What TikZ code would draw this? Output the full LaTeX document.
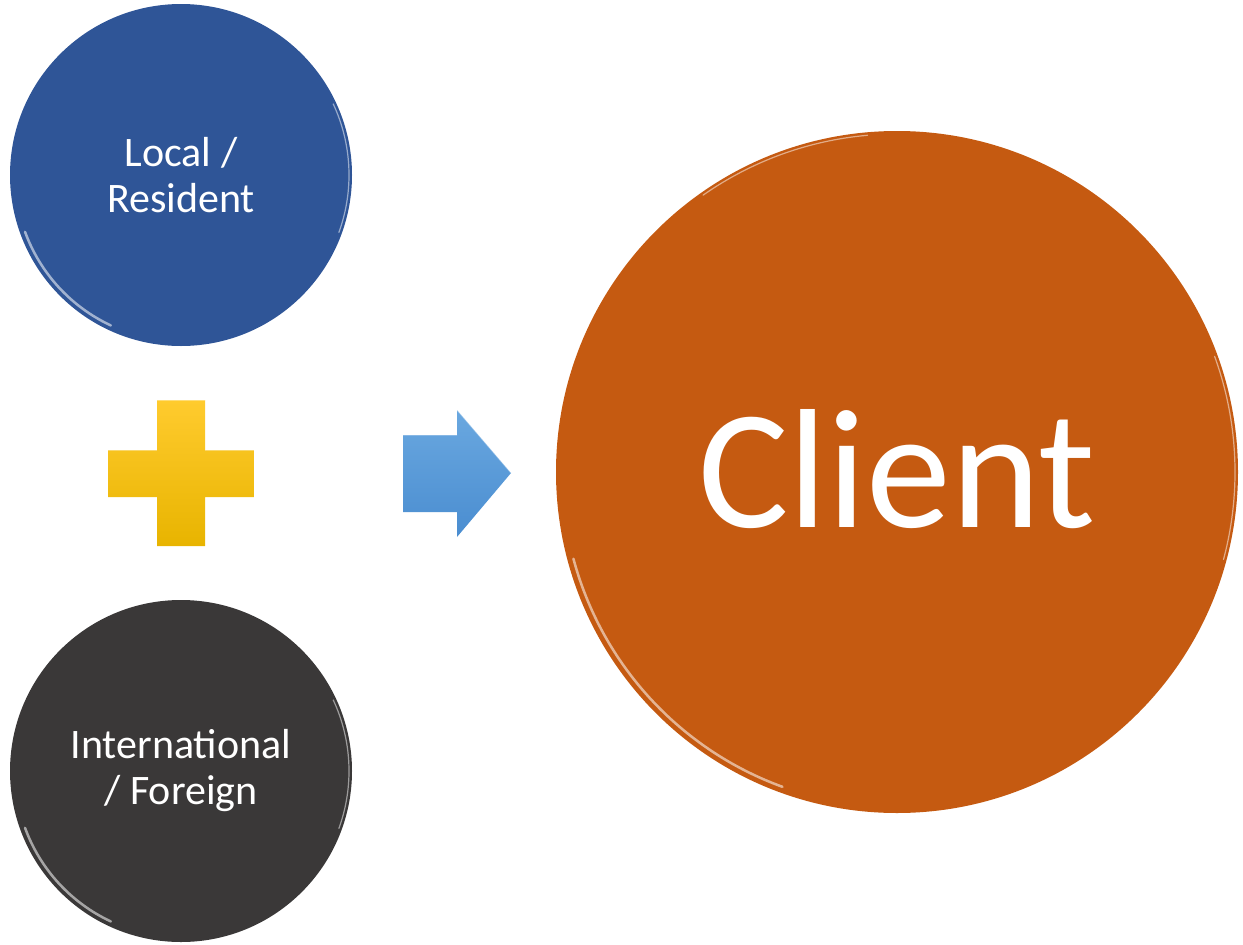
\documentclass[tikz,border=0pt]{standalone}
\usepackage{fontspec}
\setmainfont{Carlito}
\usetikzlibrary{calc}
\definecolor{cblue}{HTML}{2F5597}
\definecolor{cdark}{HTML}{3A3838}
\definecolor{corange}{HTML}{C55A11}
\definecolor{ytop}{HTML}{FFCB2E}
\definecolor{ybot}{HTML}{E8B400}
\definecolor{atop}{HTML}{6AA8E0}
\definecolor{abot}{HTML}{4A8DD0}
\tikzset{
  disc/.style={circle, inner sep=0pt, text=white, align=center},
  smalltxt/.style={font=\fontsize{42}{46}\selectfont},
  bigtxt/.style={font=\fontsize{170}{180}\selectfont},
  rim/.style={white, line width=2.5pt, opacity=0.55, line cap=round},
  rimthin/.style={white, line width=1.2pt, opacity=0.5, line cap=round}
}
\begin{document}
\begin{tikzpicture}[x=1pt,y=-1pt]
\useasboundingbox (0,0) rectangle (1243,945);
% circles
\node[disc, fill=cblue, minimum size=342pt, smalltxt] (loc) at (181,175) {Local /\\Resident};
\node[disc, fill=cdark, minimum size=342pt, smalltxt] (intl) at (181,771) {International\\/ Foreign};
\node[disc, fill=corange, minimum size=682pt, bigtxt] (cli) at (897,472) {\raisebox{8pt}{Client}};
% glossy rims (y axis points down: angles 90..180 are lower left)
\draw[rim] ($(loc.center)+(115:166)$) arc[start angle=115, end angle=160, radius=166];
\draw[rimthin] ($(loc.center)+(-25:168)$) arc[start angle=-25, end angle=20, radius=168];
\draw[rim] ($(intl.center)+(115:166)$) arc[start angle=115, end angle=160, radius=166];
\draw[rimthin] ($(intl.center)+(-25:168)$) arc[start angle=-25, end angle=20, radius=168];
\draw[rim] ($(cli.center)+(110:335)$) arc[start angle=110, end angle=165, radius=335];
\draw[rimthin] ($(cli.center)+(235:338)$) arc[start angle=235, end angle=265, radius=338];
\draw[rimthin] ($(cli.center)+(-20:338)$) arc[start angle=-20, end angle=15, radius=338];
% plus sign
\coordinate (pc) at (181,473);
\shade[top color=ytop, bottom color=ybot]
  (157,400) -- (205,400) -- (205,450) -- (254,450) -- (254,497) -- (205,497)
  -- (205,546) -- (157,546) -- (157,497) -- (108,497) -- (108,450) -- (157,450) -- cycle;
\draw[white, opacity=0.35, line width=1pt]
  (157,400) -- (205,400) (205,450) -- (254,450) -- (254,497) (108,450) -- (157,450);
% arrow
\coordinate (tip) at (511,473);
\shade[top color=atop, bottom color=abot]
  (403,435) -- (457,435) -- (457,410) -- (tip) -- (457,537) -- (457,512) -- (403,512) -- cycle;
\draw[white, opacity=0.35, line width=1pt] (403,435) -- (457,435) (457,410) -- (tip);
\end{tikzpicture}
\end{document}
